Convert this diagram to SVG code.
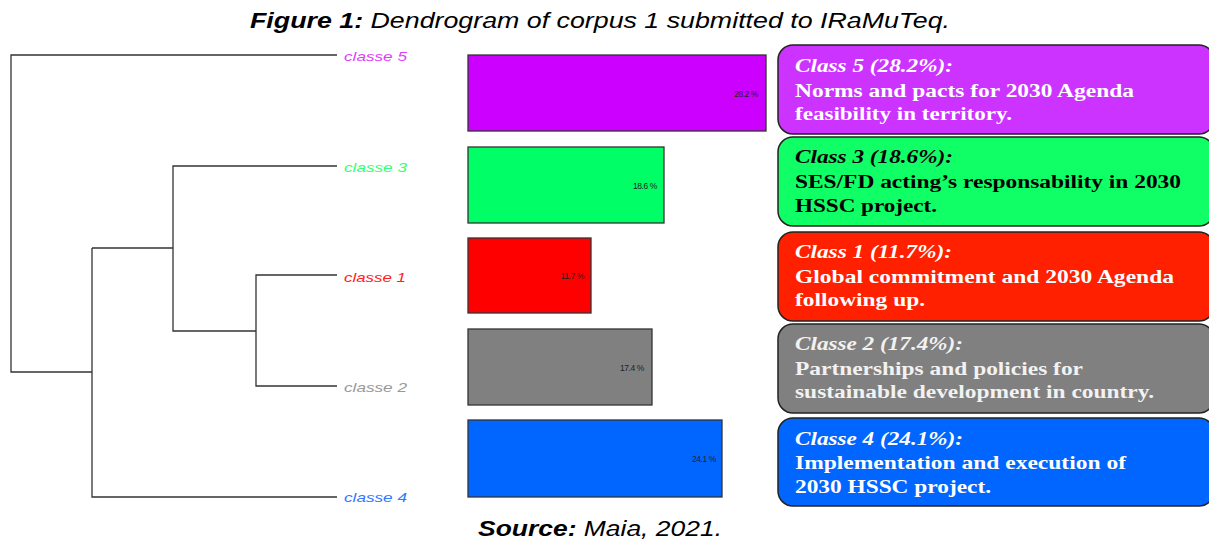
<svg xmlns="http://www.w3.org/2000/svg" width="1209" height="544" viewBox="0 0 1209 544">
<style>
.title{font-family:"Liberation Sans",Arial,sans-serif;font-size:21.5px;font-style:italic;fill:#000}
.dl{font-family:"Liberation Sans",Arial,sans-serif;font-size:13.5px;font-style:italic}
.br{stroke:#333;stroke-width:1.3;fill:none}
.bar{stroke:#333;stroke-width:1.3}
.pct{font-family:"Liberation Sans",Arial,sans-serif;font-size:8.5px;fill:#222;text-anchor:end;letter-spacing:-0.4px}
.box{stroke:#222;stroke-width:1.5}
.bt{font-family:"Liberation Serif","Times New Roman",serif;font-size:18px;font-weight:bold}
.hd{font-style:italic}
</style>
<rect width="1209" height="544" fill="#fff"/>
<text class="title" x="250" y="28" textLength="700" lengthAdjust="spacingAndGlyphs"><tspan font-weight="bold">Figure 1:</tspan> Dendrogram of corpus 1 submitted to IRaMuTeq.</text>

<g id="connectors">
<path class="br" d="M337,55 H11 V372 H92"/>
<path class="br" d="M92,248 V497 H337"/>
<path class="br" d="M92,248 H173"/>
<path class="br" d="M337,166 H173 V331 H256"/>
<path class="br" d="M337,275 H256 V386 H337"/>
</g>

<g id="leaf5"><text class="dl" x="344" y="61" fill="#E040FB" textLength="63" lengthAdjust="spacingAndGlyphs">classe  5</text></g>
<g id="leaf3"><text class="dl" x="344" y="172" fill="#33FF77" textLength="63" lengthAdjust="spacingAndGlyphs">classe  3</text></g>
<g id="leaf1"><text class="dl" x="344" y="282" fill="#FF2222" textLength="62" lengthAdjust="spacingAndGlyphs">classe  1</text></g>
<g id="leaf2"><text class="dl" x="344" y="392" fill="#999999" textLength="63" lengthAdjust="spacingAndGlyphs">classe  2</text></g>
<g id="leaf4"><text class="dl" x="344" y="502" fill="#3377FF" textLength="63" lengthAdjust="spacingAndGlyphs">classe  4</text></g>

<g id="bar5"><rect class="bar" x="468" y="55" width="298" height="76" fill="#CC00FF"/><text class="pct" x="758" y="97">28.2 %</text></g>
<g id="bar3"><rect class="bar" x="468" y="147" width="196" height="76" fill="#00FF66"/><text class="pct" x="657" y="189">18.6 %</text></g>
<g id="bar1"><rect class="bar" x="468" y="238" width="123" height="75" fill="#FF0000"/><text class="pct" x="584" y="279">11.7 %</text></g>
<g id="bar2"><rect class="bar" x="468" y="329" width="184" height="76" fill="#808080"/><text class="pct" x="644" y="371">17.4 %</text></g>
<g id="bar4"><rect class="bar" x="468" y="420" width="254" height="77" fill="#0066FF"/><text class="pct" x="716" y="462">24.1 %</text></g>

<g id="box5">
<rect class="box" x="778" y="45" width="436" height="89" rx="15" fill="#CC33FF"/>
<text class="bt" fill="#fff"><tspan class="hd" x="795" y="72" textLength="158" lengthAdjust="spacingAndGlyphs">Class 5 (28.2%):</tspan><tspan x="795" y="97" textLength="339" lengthAdjust="spacingAndGlyphs">Norms and pacts for 2030 Agenda</tspan><tspan x="795" y="120" textLength="217" lengthAdjust="spacingAndGlyphs">feasibility  in territory.</tspan></text>
</g>
<g id="box3">
<rect class="box" x="778" y="137" width="436" height="89" rx="15" fill="#11FF66"/>
<text class="bt" fill="#000"><tspan class="hd" x="795" y="163" textLength="158" lengthAdjust="spacingAndGlyphs">Class 3 (18.6%):</tspan><tspan x="795" y="188" textLength="386" lengthAdjust="spacingAndGlyphs">SES/FD acting’s responsability in 2030</tspan><tspan x="795" y="212" textLength="142" lengthAdjust="spacingAndGlyphs">HSSC project.</tspan></text>
</g>
<g id="box1">
<rect class="box" x="778" y="232" width="436" height="89" rx="15" fill="#FF2000"/>
<text class="bt" fill="#fff"><tspan class="hd" x="795" y="258" textLength="157" lengthAdjust="spacingAndGlyphs">Class 1 (11.7%):</tspan><tspan x="795" y="283" textLength="379" lengthAdjust="spacingAndGlyphs">Global commitment  and 2030 Agenda</tspan><tspan x="795" y="306" textLength="130" lengthAdjust="spacingAndGlyphs">following up.</tspan></text>
</g>
<g id="box2">
<rect class="box" x="778" y="324" width="436" height="89" rx="15" fill="#808080"/>
<text class="bt" fill="#F2F2F2"><tspan class="hd" x="795" y="350" textLength="168" lengthAdjust="spacingAndGlyphs">Classe 2 (17.4%):</tspan><tspan x="795" y="375" textLength="288" lengthAdjust="spacingAndGlyphs">Partnerships and policies for</tspan><tspan x="795" y="398" textLength="359" lengthAdjust="spacingAndGlyphs">sustainable development in country.</tspan></text>
</g>
<g id="box4">
<rect class="box" x="778" y="418" width="436" height="88" rx="15" fill="#0066FF"/>
<text class="bt" fill="#fff"><tspan class="hd" x="795" y="445" textLength="168" lengthAdjust="spacingAndGlyphs">Classe 4 (24.1%):</tspan><tspan x="795" y="469" textLength="331" lengthAdjust="spacingAndGlyphs">Implementation  and execution of</tspan><tspan x="795" y="493" textLength="196" lengthAdjust="spacingAndGlyphs">2030 HSSC project.</tspan></text>
</g>

<text class="title" x="478" y="536" textLength="244" lengthAdjust="spacingAndGlyphs"><tspan font-weight="bold">Source:</tspan> Maia, 2021.</text>
</svg>
